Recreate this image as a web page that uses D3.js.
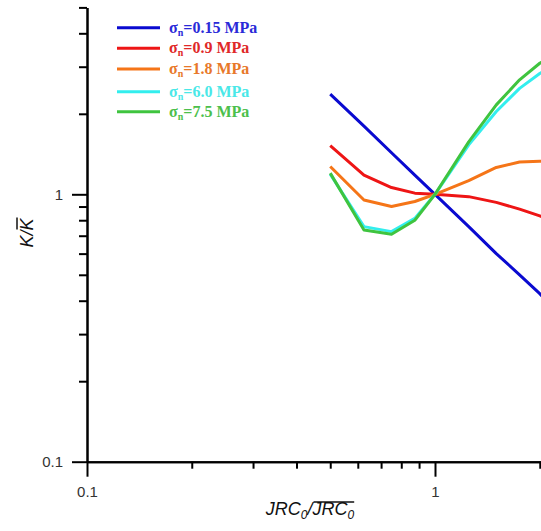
<!DOCTYPE html>
<html>
<head>
<meta charset="utf-8">
<script src="https://cdn.jsdelivr.net/npm/d3@7"></script>
<style>
  body { margin: 0; background: #fff; }
  svg { display: block; }
</style>
</head>
<body>
<svg id="chart" width="541" height="531"></svg>
<script>
// JRC0 / mean JRC0 ratios (x) and normalised permeability K / mean K (y)
const ratios = [0.5, 0.625, 0.75, 0.875, 1, 1.25, 1.5, 1.75, 2, 2.25];
const stressLabels = ["0.15", "0.9", "1.8", "6.0", "7.5"];
const k015 = [2.37, 1.80, 1.43, 1.18, 1, 0.757, 0.60, 0.50, 0.425, 0.36];
const k09  = [1.52, 1.18, 1.06, 1.01, 1, 0.98, 0.933, 0.88, 0.83, 0.78];
const k18  = [1.27, 0.952, 0.90, 0.94, 1, 1.125, 1.26, 1.32, 1.33, 1.32];
const k60  = [1.19, 0.757, 0.725, 0.813, 1, 1.53, 2.04, 2.49, 2.83, 3.1];
const k75  = [1.20, 0.735, 0.709, 0.80, 1, 1.57, 2.16, 2.68, 3.09, 3.4];
const xMajor = [0.1, 1];
const yMajor = [0.1, 1];

const lineColors = ["#0a0ad0", "#ee1515", "#f57518", "#33eeee", "#3fc43f"];
const textColors = ["#2a2ad8", "#e02828", "#e8782a", "#4ae8e8", "#4cc04c"];
const allSeries = [k015, k09, k18, k60, k75];

const svg = d3.select("#chart");

const x = d3.scaleLog().domain([0.1, 10]).range([87, 87 + 348 * 2]);
const y = d3.scaleLog().domain([0.1, 5]).range([461.7, 461.7 - 267.4 * Math.log10(50)]);

const minors = (lo, hi) => {
  const out = [];
  for (let d = lo; d < hi; d *= 10)
    for (let m = 2; m <= 9; m++) out.push(m * d);
  return out;
};
const xMinor = minors(0.1, 10);
const yMinor = minors(0.1, 1).concat([2, 3, 4, 5]);

// x axis
const gx = svg.append("g").attr("transform", `translate(0,${y(0.1)})`);
gx.append("g").call(d3.axisBottom(x).tickValues(xMinor).tickSize(7).tickSizeOuter(0).tickFormat(""));
gx.append("g").call(d3.axisBottom(x).tickValues(xMajor).tickSize(15).tickSizeOuter(0).tickPadding(10)
  .tickFormat(d => String(d)));

// y axis
const gy = svg.append("g").attr("transform", `translate(${x(0.1)},0)`);
gy.append("g").call(d3.axisLeft(y).tickValues(yMinor).tickSize(8).tickSizeOuter(0).tickFormat(""));
gy.append("g").call(d3.axisLeft(y).tickValues(yMajor).tickSize(15).tickSizeOuter(0).tickPadding(9)
  .tickFormat(d => String(d)));

svg.selectAll(".domain").attr("stroke", "#000").attr("stroke-width", 2);
svg.selectAll(".tick line").attr("stroke", "#000").attr("stroke-width", 2);
svg.selectAll(".tick text")
  .attr("font-family", "Liberation Sans, Arial, sans-serif")
  .attr("font-size", 15)
  .attr("fill", "#333");

// curves
svg.append("clipPath").attr("id", "plot-clip")
  .append("rect").attr("x", x(0.1)).attr("y", y(5)).attr("width", 700).attr("height", y(0.1) - y(5));

const line = d3.line().x((d, i) => x(ratios[i])).y(d => y(d));
svg.append("g").attr("clip-path", "url(#plot-clip)")
  .selectAll("path")
  .data(allSeries)
  .join("path")
  .attr("d", d => line(d))
  .attr("fill", "none")
  .attr("stroke", (d, i) => lineColors[i])
  .attr("stroke-width", 3)
  .attr("stroke-linejoin", "round");

// legend
const legendRows = [27.7, 48.3, 69, 91.7, 111.7];
const legend = svg.append("g");
stressLabels.forEach((s, i) => {
  legend.append("line")
    .attr("x1", 117).attr("x2", 160)
    .attr("y1", legendRows[i]).attr("y2", legendRows[i])
    .attr("stroke", lineColors[i]).attr("stroke-width", 3);
  const t = legend.append("text")
    .attr("x", 169).attr("y", legendRows[i] + 5)
    .attr("font-family", "Liberation Serif, Times New Roman, serif")
    .attr("font-weight", "bold")
    .attr("font-size", 16)
    .attr("fill", textColors[i]);
  t.append("tspan").text("σ");
  t.append("tspan").attr("font-size", 10).attr("dy", 3).text("n");
  t.append("tspan").attr("dy", -3).text("=" + s + " MPa");
});

// axis titles
const labelFont = "Liberation Sans, Arial, sans-serif";

// x title: JRC0 / overline(JRC0)
const xt = svg.append("g");
const part1 = xt.append("text").attr("y", 515)
  .attr("font-family", labelFont).attr("font-style", "italic").attr("font-size", 18).attr("fill", "#111");
part1.append("tspan").text("JRC");
part1.append("tspan").attr("font-size", 12).attr("dy", 4).text("0");
part1.append("tspan").attr("dy", -4).text("/");
const part2 = xt.append("text").attr("y", 515)
  .attr("font-family", labelFont).attr("font-style", "italic").attr("font-size", 18).attr("fill", "#111");
part2.append("tspan").text("JRC");
part2.append("tspan").attr("font-size", 12).attr("dy", 4).text("0");
const w1 = part1.node().getComputedTextLength();
const w2 = part2.node().getComputedTextLength();
const x0 = 310 - (w1 + w2) / 2;
part1.attr("x", x0);
part2.attr("x", x0 + w1);
xt.append("line").attr("x1", x0 + w1 + 1).attr("x2", x0 + w1 + w2)
  .attr("y1", 502).attr("y2", 502).attr("stroke", "#111").attr("stroke-width", 1.5);

// y title: K / overline(K), rotated
const yt = svg.append("g").attr("transform", "translate(33,233) rotate(-90)");
const ya = yt.append("text").attr("font-family", labelFont).attr("font-style", "italic")
  .attr("font-size", 18).attr("fill", "#111").text("K/");
const yb = yt.append("text").attr("font-family", labelFont).attr("font-style", "italic")
  .attr("font-size", 18).attr("fill", "#111").text("K");
const wa = ya.node().getComputedTextLength();
const wb = yb.node().getComputedTextLength();
ya.attr("x", -(wa + wb) / 2);
yb.attr("x", -(wa + wb) / 2 + wa);
yt.append("line").attr("x1", -(wa + wb) / 2 + wa + 1).attr("x2", (wa + wb) / 2 + 1)
  .attr("y1", -16).attr("y2", -16).attr("stroke", "#111").attr("stroke-width", 1.5);
</script>
</body>
</html>
